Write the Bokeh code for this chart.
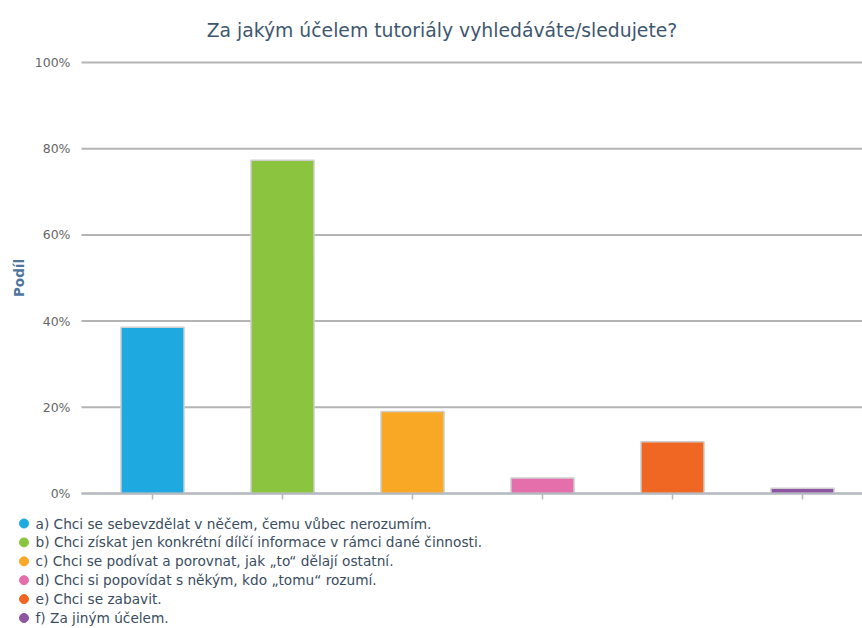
import math
from bokeh.plotting import figure
from bokeh.models import Range1d, FixedTicker, PrintfTickFormatter, ColumnDataSource, LinearAxis
from bokeh.core.properties import value
from bokeh.embed import file_html
from bokeh.resources import INLINE

title_text = "Za jakým účelem tutoriály vyhledáváte/sledujete?"
y_label = "Podíl"
categories = [
    "a) Chci se sebevzdělat v něčem, čemu vůbec nerozumím.",
    "b) Chci získat jen konkrétní dílčí informace v rámci dané činnosti.",
    "c) Chci se podívat a porovnat, jak „to“ dělají ostatní.",
    "d) Chci si popovídat s někým, kdo „tomu“ rozumí.",
    "e) Chci se zabavit.",
    "f) Za jiným účelem.",
]
values = [38.6, 77.3, 19.0, 3.6, 12.0, 1.2]
colors = ["#1ea9e1", "#8bc540", "#f9a825", "#e56fab", "#f06623", "#8e55a3"]
y_ticks = [0, 20, 40, 60, 80, 100]

FONT = "DejaVu Sans"
W, H = 862, 628
positions = list(range(len(categories)))

# layout (page pixels)
X0_PX, STEP_PX = 152.0, 130.0          # centre of first category, category spacing
Y0_PX, Y100_PX = 493.0, 62.0           # 0% and 100% lines
PX_PER_UNIT = (Y0_PX - Y100_PX) / 100.0


def px_x(px):
    return (px - X0_PX) / STEP_PX


def px_y(py):
    return (Y0_PX - py) / PX_PER_UNIT


x_left, x_right = px_x(81), px_x(W)

p = figure(width=W, height=H, output_backend="svg", toolbar_location=None,
           x_range=Range1d(px_x(0), px_x(W)), y_range=Range1d(px_y(H), px_y(0)),
           x_axis_type=None, y_axis_type=None,
           min_border_left=0, min_border_right=0, min_border_top=0, min_border_bottom=0)
p.outline_line_color = None
p.background_fill_color = "white"
p.border_fill_color = "white"
p.grid.visible = False

# horizontal grid lines of the plot area
p.segment(x0=[x_left] * len(y_ticks), x1=[x_right] * len(y_ticks), y0=y_ticks, y1=y_ticks,
          line_color="#b4b4b4", line_width=2)

src = ColumnDataSource(dict(x=positions, top=values, color=colors))
p.vbar(x="x", top="top", bottom=0, width=0.485, fill_color="color",
       line_color="#cfcfcf", line_width=1.5, source=src)

# y axis drawn at the left edge of the plot area
yaxis = LinearAxis(fixed_location=x_left, ticker=FixedTicker(ticks=y_ticks),
                   formatter=PrintfTickFormatter(format="%d%%"))
yaxis.axis_line_color = None
yaxis.major_tick_line_color = None
yaxis.major_tick_in = 0
yaxis.major_tick_out = 0
yaxis.minor_tick_line_color = None
yaxis.minor_tick_out = 0
yaxis.major_label_standoff = 11
yaxis.major_label_text_font = FONT
yaxis.major_label_text_font_size = "12.5px"
yaxis.major_label_text_color = "#666666"
p.add_layout(yaxis, "left")

# y axis title, centred on the plot area
p.text(x=[px_x(18)], y=[px_y((Y0_PX + Y100_PX) / 2)], text=[y_label], angle=math.pi / 2,
       text_align="center", text_baseline="alphabetic", text_font=value(FONT),
       text_font_size="13.5px", text_font_style="bold", text_color="#4d759e")

# x axis drawn along 0%
xaxis = LinearAxis(fixed_location=0, ticker=FixedTicker(ticks=positions), bounds=(x_left, x_right))
xaxis.axis_line_color = "#b3b9c0"
xaxis.axis_line_width = 2
xaxis.major_tick_line_color = "#b3b9c0"
xaxis.major_tick_line_width = 1.5
xaxis.major_tick_in = 0
xaxis.major_tick_out = 6
xaxis.minor_tick_line_color = None
xaxis.major_label_text_font_size = "0px"
xaxis.major_label_text_color = None
p.add_layout(xaxis, "below")

# title
p.text(x=[px_x(441.5)], y=[px_y(30)], text=[title_text], text_align="center",
       text_baseline="alphabetic", text_font=value(FONT), text_font_size="18.8px",
       text_color="#3e576f")

# legend
first, step = 523.0, 18.9
lsrc = ColumnDataSource(dict(
    y=[px_y(first + step * i) for i in positions],
    cx=[px_x(23.5)] * len(positions),
    tx=[px_x(35)] * len(positions),
    color=colors, label=categories))
p.scatter(x="cx", y="y", size=9, marker="circle", fill_color="color", line_color="color", source=lsrc)
p.text(x="tx", y="y", text="label", text_font=value(FONT), text_font_size="13.7px",
       text_baseline="middle", text_align="left", text_color="#3a4d60", source=lsrc)

open("out.html", "w").write(file_html(p, INLINE))
